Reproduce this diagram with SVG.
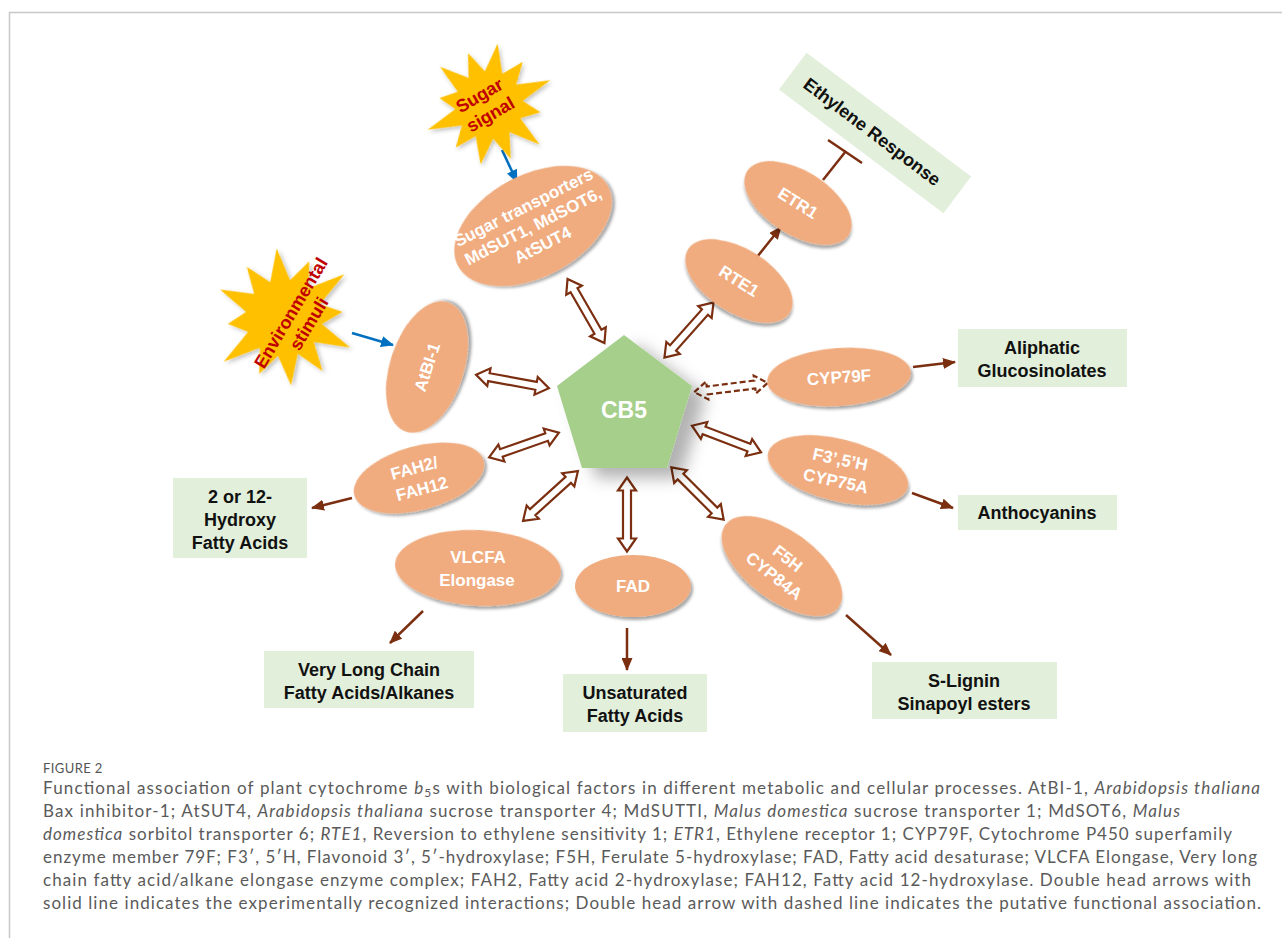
<svg xmlns="http://www.w3.org/2000/svg" width="1282" height="938" viewBox="0 0 1282 938">
<style>
.ell{fill:#F0AC7F;filter:url(#sh)}
.et{font-family:"Liberation Sans",Arial,sans-serif;font-weight:bold;font-size:17px;fill:#fff;text-anchor:middle}
.box{fill:#E2EFDA}
.bt{font-family:"Liberation Sans",Arial,sans-serif;font-weight:bold;font-size:18px;fill:#111;text-anchor:middle}
.st{font-family:"Liberation Sans",Arial,sans-serif;font-weight:bold;font-size:18px;fill:#C00000;text-anchor:middle}
.ln{stroke:#7B2F10;stroke-width:2.5;fill:none;marker-end:url(#ah)}
.bl{stroke:#0070C0;stroke-width:2.5;fill:none;marker-end:url(#ahb)}
.dbl{fill:#fff;stroke:#7B2F10;stroke-width:2.2;stroke-linejoin:miter}
.dash{stroke-dasharray:6 3}
.cap{font-family:Lato,"Open Sans","Liberation Sans",sans-serif;font-size:17px;fill:#5A5A5A}
.it{font-style:italic}
.star{fill:#FFC000;filter:url(#sh2)}
</style>
<defs>
<filter id="sh" x="-20%" y="-20%" width="140%" height="150%">
<feDropShadow dx="2" dy="3" stdDeviation="1.5" flood-color="#000" flood-opacity="0.35"/>
</filter>
<filter id="sh2" x="-20%" y="-20%" width="140%" height="140%">
<feDropShadow dx="2" dy="2" stdDeviation="2" flood-color="#000" flood-opacity="0.25"/>
</filter>
<filter id="shp" x="-30%" y="-30%" width="180%" height="180%">
<feDropShadow dx="14" dy="10" stdDeviation="8" flood-color="#000" flood-opacity="0.3"/>
</filter>
<marker id="ah" markerUnits="userSpaceOnUse" markerWidth="13" markerHeight="11" refX="12" refY="5.5" orient="auto">
<path d="M0,0 L13,5.5 L0,11 Z" fill="#7B2F10"/>
</marker>
<marker id="ahb" markerUnits="userSpaceOnUse" markerWidth="13" markerHeight="11" refX="12" refY="5.5" orient="auto">
<path d="M0,0 L13,5.5 L0,11 Z" fill="#0070C0"/>
</marker>
<polygon id="dblshape" points="0,0 13,-9 13,-4 61,-4 61,-9 74,0 61,9 61,4 13,4 13,9"/>
<polygon id="starshape" points="0,-62 8.8,-32.8 27.5,-47.6 24,-24 57.2,-33 32.8,-8.8 52,0 32.8,8.8 55.4,32 24,24 29,50.2 8.8,32.8 0,60 -8.8,32.8 -27,46.8 -24,24 -57.2,33 -32.8,8.8 -50,0 -32.8,-8.8 -53.7,-31 -24,-24 -28,-48.5 -8.8,-32.8"/>
</defs>

<rect x="0" y="0" width="1282" height="938" fill="#fff"/>
<g id="frame" stroke="#C8C8C8" stroke-width="1.5" fill="none">
<line x1="9" y1="12.5" x2="1282" y2="12.5"/>
<line x1="9.5" y1="12" x2="9.5" y2="938"/>
</g>

<g id="connectors">
<use href="#dblshape" class="dbl" transform="translate(586,311) rotate(60.1) translate(-37,0)"/>
<use href="#dblshape" class="dbl" transform="translate(689,330) rotate(131.6) translate(-37,0)"/>
<use href="#dblshape" class="dbl" transform="translate(512.5,381.5) rotate(10.4) translate(-37,0)"/>
<use href="#dblshape" class="dbl" transform="translate(524,445) rotate(-19.4) translate(-37,0)"/>
<use href="#dblshape" class="dbl" transform="translate(550.5,496) rotate(-42.2) translate(-37,0)"/>
<use href="#dblshape" class="dbl" transform="translate(627,514.5) rotate(90) translate(-37,0)"/>
<use href="#dblshape" class="dbl" transform="translate(697.5,493.5) rotate(45) translate(-37,0)"/>
<use href="#dblshape" class="dbl" transform="translate(726.5,439) rotate(21) translate(-37,0)"/>
<use href="#dblshape" class="dbl dash" transform="translate(731,387.5) rotate(-7.1) translate(-37,0)"/>
<line class="ln" x1="757" y1="257" x2="781" y2="227"/>
<line class="ln" x1="913" y1="367" x2="955" y2="362"/>
<line class="ln" x1="912" y1="493" x2="953" y2="508"/>
<line class="ln" x1="846" y1="615" x2="891" y2="655"/>
<line class="ln" x1="627" y1="628" x2="627" y2="670"/>
<line class="ln" x1="423" y1="611" x2="390" y2="643"/>
<line class="ln" x1="352" y1="498" x2="312" y2="508"/>
<line class="bl" x1="502" y1="150" x2="517" y2="182"/>
<line class="bl" x1="352" y1="333" x2="393" y2="345"/>
<g stroke="#7B2F10" stroke-width="2.5">
<line x1="823" y1="180" x2="846" y2="151"/>
<line x1="828" y1="140" x2="862" y2="163"/>
</g>
</g>

<g id="cb5">
<polygon points="624,335 692,386 667,468 582,468 557,386" fill="#A5CF8A" filter="url(#shp)"/>
<text x="624" y="418" font-family="Liberation Sans,Arial,sans-serif" font-weight="bold" font-size="23" fill="#fff" text-anchor="middle">CB5</text>
</g>

<g id="sugar-signal">
<use href="#starshape" class="star" transform="translate(489,105) rotate(8)"/>
<g transform="translate(485,105) rotate(-30)">
<text class="st" x="0" y="-5">Sugar</text>
<text class="st" x="0" y="17">signal</text>
</g>
</g>

<g id="env-stimuli">
<use href="#starshape" class="star" transform="translate(284,318) rotate(-6) scale(1.13)"/>
<g transform="translate(291,313) rotate(-59)">
<text class="st" x="0" y="6">Environmental</text>
<text class="st" x="0" y="27">stimuli</text>
</g>
</g>

<g id="sugar-transporters">
<ellipse class="ell" cx="0" cy="0" rx="85" ry="51" transform="translate(533,226) rotate(-28)"/>
<g transform="translate(533,226) rotate(-27)">
<text class="et" x="0" y="-15" font-size="16">Sugar transporters</text>
<text class="et" x="0" y="6" font-size="16">MdSUT1, MdSOT6,</text>
<text class="et" x="0" y="27" font-size="16">AtSUT4</text>
</g>
</g>

<g id="atbi1">
<ellipse class="ell" cx="0" cy="0" rx="68" ry="37" transform="translate(427,367) rotate(-72)"/>
<text class="et" x="0" y="6" transform="translate(427,367) rotate(-72)">AtBI-1</text>
</g>

<g id="rte1">
<ellipse class="ell" cx="0" cy="0" rx="60" ry="32" transform="translate(739,281) rotate(32)"/>
<text class="et" x="0" y="6" transform="translate(739,281) rotate(32)">RTE1</text>
</g>

<g id="etr1">
<ellipse class="ell" cx="0" cy="0" rx="60" ry="32" transform="translate(798,203) rotate(32)"/>
<text class="et" x="0" y="6" transform="translate(798,203) rotate(32)">ETR1</text>
</g>

<g id="ethylene-response">
<rect class="box" x="-103" y="-23" width="206" height="46" transform="translate(875,133) rotate(37)"/>
<text class="bt" x="0" y="6" transform="translate(872,132) rotate(37)">Ethylene Response</text>
</g>

<g id="cyp79f">
<ellipse class="ell" cx="0" cy="0" rx="72" ry="29" transform="translate(839,377) rotate(-4)"/>
<text class="et" x="0" y="6" transform="translate(839,377) rotate(-4)">CYP79F</text>
</g>

<g id="aliphatic">
<rect class="box" x="958" y="329" width="169" height="58"/>
<text class="bt" x="1042" y="354">Aliphatic</text>
<text class="bt" x="1042" y="377">Glucosinolates</text>
</g>

<g id="f35h">
<ellipse class="ell" cx="0" cy="0" rx="72" ry="31" transform="translate(838,470) rotate(14)"/>
<g transform="translate(838,470) rotate(12)">
<text class="et" x="0" y="-5">F3’,5’H</text>
<text class="et" x="0" y="17">CYP75A</text>
</g>
</g>

<g id="anthocyanins">
<rect class="box" x="958" y="495" width="159" height="35"/>
<text class="bt" x="1037" y="519">Anthocyanins</text>
</g>

<g id="f5h">
<ellipse class="ell" cx="0" cy="0" rx="70" ry="35" transform="translate(782,566) rotate(36)"/>
<g transform="translate(781,567) rotate(38)">
<text class="et" x="0" y="-5">F5H</text>
<text class="et" x="0" y="17">CYP84A</text>
</g>
</g>

<g id="slignin">
<rect class="box" x="872" y="662" width="185" height="57"/>
<text class="bt" x="964" y="687">S-Lignin</text>
<text class="bt" x="964" y="710">Sinapoyl esters</text>
</g>

<g id="fad">
<ellipse class="ell" cx="633" cy="586" rx="58" ry="31"/>
<text class="et" x="633" y="592">FAD</text>
</g>

<g id="unsaturated">
<rect class="box" x="563" y="674" width="144" height="58"/>
<text class="bt" x="635" y="699">Unsaturated</text>
<text class="bt" x="635" y="722">Fatty Acids</text>
</g>

<g id="vlcfa">
<ellipse class="ell" cx="0" cy="0" rx="83" ry="38" transform="translate(478,568) rotate(3)"/>
<text class="et" x="478" y="563">VLCFA</text>
<text class="et" x="477" y="586">Elongase</text>
</g>

<g id="vlc-box">
<rect class="box" x="264" y="651" width="210" height="57"/>
<text class="bt" x="369" y="676">Very Long Chain</text>
<text class="bt" x="369" y="699">Fatty Acids/Alkanes</text>
</g>

<g id="fah">
<ellipse class="ell" cx="0" cy="0" rx="67" ry="32" transform="translate(419,478) rotate(-15)"/>
<g transform="translate(419,478) rotate(-15)">
<text class="et" x="-2" y="-5">FAH2/</text>
<text class="et" x="0" y="17">FAH12</text>
</g>
</g>

<g id="hydroxy-box">
<rect class="box" x="173" y="478" width="134" height="80"/>
<text class="bt" x="240" y="503">2 or 12-</text>
<text class="bt" x="240" y="526">Hydroxy</text>
<text class="bt" x="240" y="549">Fatty Acids</text>
</g>

<g id="caption">
<text x="43" y="773" font-family="Lato,Open Sans,Liberation Sans,sans-serif" font-size="13" fill="#555" letter-spacing="0.4">FIGURE 2</text>
<text class="cap" x="43" y="794" textLength="1217" lengthAdjust="spacing">Functional association of plant cytochrome <tspan class="it">b</tspan><tspan font-size="12" dy="3">5</tspan><tspan dy="-3">s with biological factors in different metabolic and cellular processes. AtBI-1, </tspan><tspan class="it">Arabidopsis thaliana</tspan></text>
<text class="cap" x="43" y="817" textLength="1137" lengthAdjust="spacing">Bax inhibitor-1; AtSUT4, <tspan class="it">Arabidopsis thaliana</tspan> sucrose transporter 4; MdSUTTI, <tspan class="it">Malus domestica</tspan> sucrose transporter 1; MdSOT6, <tspan class="it">Malus</tspan></text>
<text class="cap" x="43" y="840" textLength="1189" lengthAdjust="spacing"><tspan class="it">domestica</tspan> sorbitol transporter 6; <tspan class="it">RTE1</tspan>, Reversion to ethylene sensitivity 1; <tspan class="it">ETR1</tspan>, Ethylene receptor 1; CYP79F, Cytochrome P450 superfamily</text>
<text class="cap" x="43" y="863" textLength="1214" lengthAdjust="spacing">enzyme member 79F; F3′, 5′H, Flavonoid 3′, 5′-hydroxylase; F5H, Ferulate 5-hydroxylase; FAD, Fatty acid desaturase; VLCFA Elongase, Very long</text>
<text class="cap" x="43" y="886" textLength="1208" lengthAdjust="spacing">chain fatty acid/alkane elongase enzyme complex; FAH2, Fatty acid 2-hydroxylase; FAH12, Fatty acid 12-hydroxylase. Double head arrows with</text>
<text class="cap" x="43" y="909" textLength="1218" lengthAdjust="spacing">solid line indicates the experimentally recognized interactions; Double head arrow with dashed line indicates the putative functional association.</text>
</g>
</svg>
